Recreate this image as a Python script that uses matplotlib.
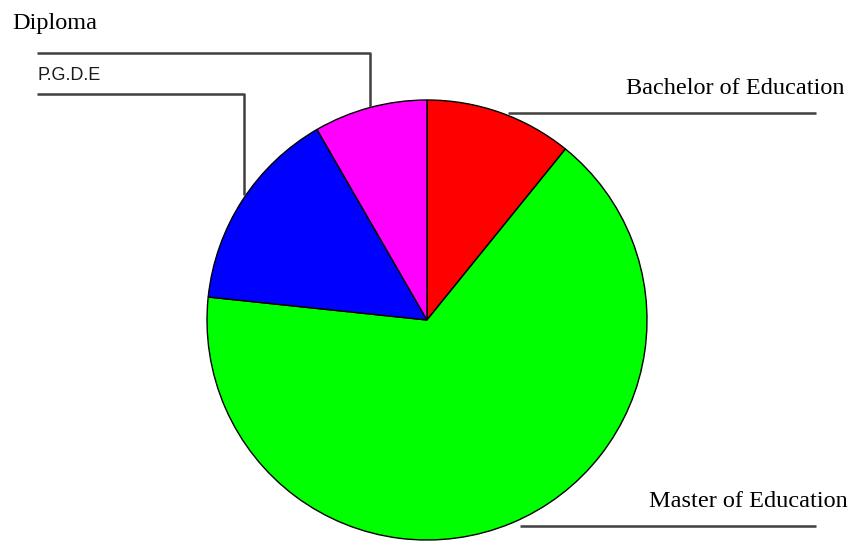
import matplotlib.pyplot as plt

labels = ['Bachelor of Education', 'Master of Education', 'P.G.D.E', 'Diploma']
values = [13, 79, 18, 10]
colors = ['#ff0000', '#00ff00', '#0000ff', '#ff00ff']

W, H = 855, 542

fig = plt.figure(figsize=(W / 100, H / 100), dpi=100)
ax = fig.add_axes([0, 0, 1, 1])

# pie in pixel coords (y flipped so up is up)
ax.pie(values, colors=colors, center=(427, H - 320), radius=220,
       startangle=90, counterclock=False,
       wedgeprops=dict(edgecolor='black', linewidth=1.0))
ax.set_xlim(0, W)
ax.set_ylim(0, H)
ax.set_aspect('equal')
ax.axis('off')

line_kw = dict(color='#404040', lw=1.8, solid_capstyle='butt')

def y(p):
    return H - p

# leader lines
ax.plot([37, 370, 370], [y(53), y(53), y(107)], **line_kw)
ax.plot([37, 244, 244], [y(94), y(94), y(195)], **line_kw)
ax.plot([508, 816], [y(112.5), y(112.5)], **line_kw)
ax.plot([520, 816], [y(525.5), y(525.5)], **line_kw)

serif = dict(family='Liberation Serif', fontsize=17.5, color='black')
ax.text(12, y(29), labels[3], ha='left', va='baseline', **serif)
ax.text(845, y(94), labels[0], ha='right', va='baseline', **serif)
ax.text(848, y(507), labels[1], ha='right', va='baseline', **serif)
ax.text(37, y(80), labels[2], ha='left', va='baseline',
        family='Liberation Sans', fontsize=13, color='#1a1a1a')

fig.savefig('out.png', dpi=100)
